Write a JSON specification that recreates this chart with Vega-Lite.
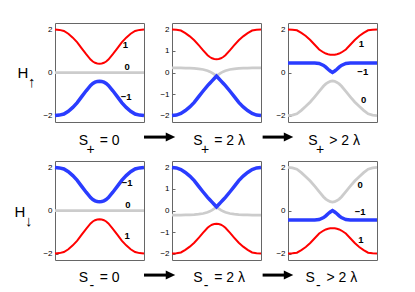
{
  "$schema": "https://vega.github.io/schema/vega-lite/v6.json",
  "padding": {"left": 13, "top": 22, "right": 0, "bottom": 0},
  "config": {"font": "Liberation Sans", "view": {"stroke": "#666", "strokeWidth": 1}},
  "columns": 5,
  "align": "each",
  "bounds": "flush",
  "spacing": {"row": 14, "column": 0},
  "datasets": {
    "up_zero": [
      {"t":0,"plus":2,"zero":0,"minus":-2},{"t":0.05,"plus":1.98,"zero":0,"minus":-1.98},{"t":0.1,"plus":1.93,"zero":0,"minus":-1.93},{"t":0.15,"plus":1.8,"zero":0,"minus":-1.8},{"t":0.2,"plus":1.62,"zero":0,"minus":-1.62},{"t":0.25,"plus":1.4,"zero":0,"minus":-1.4},{"t":0.3,"plus":1.12,"zero":0,"minus":-1.12},{"t":0.35,"plus":0.85,"zero":0,"minus":-0.85},{"t":0.4,"plus":0.6,"zero":0,"minus":-0.6},{"t":0.425,"plus":0.51,"zero":0,"minus":-0.51},{"t":0.45,"plus":0.45,"zero":0,"minus":-0.45},{"t":0.475,"plus":0.42,"zero":0,"minus":-0.42},{"t":0.5,"plus":0.41,"zero":0,"minus":-0.41},{"t":0.525,"plus":0.42,"zero":0,"minus":-0.42},{"t":0.55,"plus":0.45,"zero":0,"minus":-0.45},{"t":0.575,"plus":0.51,"zero":0,"minus":-0.51},{"t":0.6,"plus":0.6,"zero":0,"minus":-0.6},{"t":0.65,"plus":0.85,"zero":0,"minus":-0.85},{"t":0.7,"plus":1.12,"zero":0,"minus":-1.12},{"t":0.75,"plus":1.4,"zero":0,"minus":-1.4},{"t":0.8,"plus":1.62,"zero":0,"minus":-1.62},{"t":0.85,"plus":1.8,"zero":0,"minus":-1.8},{"t":0.9,"plus":1.93,"zero":0,"minus":-1.93},{"t":0.95,"plus":1.98,"zero":0,"minus":-1.98},{"t":1,"plus":2,"zero":0,"minus":-2}
    ],
    "down_zero": [
      {"t":0,"plus":-2,"zero":0,"minus":2},{"t":0.05,"plus":-1.98,"zero":0,"minus":1.98},{"t":0.1,"plus":-1.93,"zero":0,"minus":1.93},{"t":0.15,"plus":-1.8,"zero":0,"minus":1.8},{"t":0.2,"plus":-1.62,"zero":0,"minus":1.62},{"t":0.25,"plus":-1.4,"zero":0,"minus":1.4},{"t":0.3,"plus":-1.12,"zero":0,"minus":1.12},{"t":0.35,"plus":-0.85,"zero":0,"minus":0.85},{"t":0.4,"plus":-0.6,"zero":0,"minus":0.6},{"t":0.425,"plus":-0.51,"zero":0,"minus":0.51},{"t":0.45,"plus":-0.45,"zero":0,"minus":0.45},{"t":0.475,"plus":-0.42,"zero":0,"minus":0.42},{"t":0.5,"plus":-0.41,"zero":0,"minus":0.41},{"t":0.525,"plus":-0.42,"zero":0,"minus":0.42},{"t":0.55,"plus":-0.45,"zero":0,"minus":0.45},{"t":0.575,"plus":-0.51,"zero":0,"minus":0.51},{"t":0.6,"plus":-0.6,"zero":0,"minus":0.6},{"t":0.65,"plus":-0.85,"zero":0,"minus":0.85},{"t":0.7,"plus":-1.12,"zero":0,"minus":1.12},{"t":0.75,"plus":-1.4,"zero":0,"minus":1.4},{"t":0.8,"plus":-1.62,"zero":0,"minus":1.62},{"t":0.85,"plus":-1.8,"zero":0,"minus":1.8},{"t":0.9,"plus":-1.93,"zero":0,"minus":1.93},{"t":0.95,"plus":-1.98,"zero":0,"minus":1.98},{"t":1,"plus":-2,"zero":0,"minus":2}
    ],
    "up_eq": [
      {"t":0,"plus":2,"zero":0.21,"minus":-2},{"t":0.05,"plus":1.99,"zero":0.21,"minus":-1.98},{"t":0.1,"plus":1.95,"zero":0.21,"minus":-1.9},{"t":0.15,"plus":1.83,"zero":0.2,"minus":-1.77},{"t":0.2,"plus":1.68,"zero":0.2,"minus":-1.6},{"t":0.25,"plus":1.5,"zero":0.19,"minus":-1.39},{"t":0.3,"plus":1.27,"zero":0.17,"minus":-1.12},{"t":0.35,"plus":1.03,"zero":0.14,"minus":-0.86},{"t":0.4,"plus":0.8,"zero":0.08,"minus":-0.61},{"t":0.425,"plus":0.72,"zero":0.04,"minus":-0.5},{"t":0.45,"plus":0.66,"zero":-0.02,"minus":-0.39},{"t":0.475,"plus":0.63,"zero":-0.09,"minus":-0.28},{"t":0.5,"plus":0.62,"zero":-0.17,"minus":-0.17},{"t":0.525,"plus":0.63,"zero":-0.09,"minus":-0.28},{"t":0.55,"plus":0.66,"zero":-0.02,"minus":-0.39},{"t":0.575,"plus":0.72,"zero":0.04,"minus":-0.5},{"t":0.6,"plus":0.8,"zero":0.08,"minus":-0.61},{"t":0.65,"plus":1.03,"zero":0.14,"minus":-0.86},{"t":0.7,"plus":1.27,"zero":0.17,"minus":-1.12},{"t":0.75,"plus":1.5,"zero":0.19,"minus":-1.39},{"t":0.8,"plus":1.68,"zero":0.2,"minus":-1.6},{"t":0.85,"plus":1.83,"zero":0.2,"minus":-1.77},{"t":0.9,"plus":1.95,"zero":0.21,"minus":-1.9},{"t":0.95,"plus":1.99,"zero":0.21,"minus":-1.98},{"t":1,"plus":2,"zero":0.21,"minus":-2}
    ],
    "down_eq": [
      {"t":0,"plus":-2,"zero":-0.21,"minus":2},{"t":0.05,"plus":-1.99,"zero":-0.21,"minus":1.98},{"t":0.1,"plus":-1.95,"zero":-0.21,"minus":1.9},{"t":0.15,"plus":-1.83,"zero":-0.2,"minus":1.77},{"t":0.2,"plus":-1.68,"zero":-0.2,"minus":1.6},{"t":0.25,"plus":-1.5,"zero":-0.19,"minus":1.39},{"t":0.3,"plus":-1.27,"zero":-0.17,"minus":1.12},{"t":0.35,"plus":-1.03,"zero":-0.14,"minus":0.86},{"t":0.4,"plus":-0.8,"zero":-0.08,"minus":0.61},{"t":0.425,"plus":-0.72,"zero":-0.04,"minus":0.5},{"t":0.45,"plus":-0.66,"zero":0.02,"minus":0.39},{"t":0.475,"plus":-0.63,"zero":0.09,"minus":0.28},{"t":0.5,"plus":-0.62,"zero":0.17,"minus":0.17},{"t":0.525,"plus":-0.63,"zero":0.09,"minus":0.28},{"t":0.55,"plus":-0.66,"zero":0.02,"minus":0.39},{"t":0.575,"plus":-0.72,"zero":-0.04,"minus":0.5},{"t":0.6,"plus":-0.8,"zero":-0.08,"minus":0.61},{"t":0.65,"plus":-1.03,"zero":-0.14,"minus":0.86},{"t":0.7,"plus":-1.27,"zero":-0.17,"minus":1.12},{"t":0.75,"plus":-1.5,"zero":-0.19,"minus":1.39},{"t":0.8,"plus":-1.68,"zero":-0.2,"minus":1.6},{"t":0.85,"plus":-1.83,"zero":-0.2,"minus":1.77},{"t":0.9,"plus":-1.95,"zero":-0.21,"minus":1.9},{"t":0.95,"plus":-1.99,"zero":-0.21,"minus":1.98},{"t":1,"plus":-2,"zero":-0.21,"minus":2}
    ],
    "up_gt": [
      {"t":0,"plus":2,"zero":-2,"minus":0.44},{"t":0.05,"plus":1.99,"zero":-1.98,"minus":0.44},{"t":0.1,"plus":1.96,"zero":-1.92,"minus":0.44},{"t":0.15,"plus":1.84,"zero":-1.76,"minus":0.44},{"t":0.2,"plus":1.7,"zero":-1.57,"minus":0.44},{"t":0.25,"plus":1.51,"zero":-1.37,"minus":0.44},{"t":0.3,"plus":1.29,"zero":-1.13,"minus":0.44},{"t":0.35,"plus":1.07,"zero":-0.88,"minus":0.42},{"t":0.4,"plus":0.93,"zero":-0.63,"minus":0.33},{"t":0.425,"plus":0.88,"zero":-0.53,"minus":0.25},{"t":0.45,"plus":0.85,"zero":-0.46,"minus":0.15},{"t":0.475,"plus":0.83,"zero":-0.41,"minus":0.07},{"t":0.5,"plus":0.82,"zero":-0.39,"minus":0},{"t":0.525,"plus":0.83,"zero":-0.41,"minus":0.07},{"t":0.55,"plus":0.85,"zero":-0.46,"minus":0.15},{"t":0.575,"plus":0.88,"zero":-0.53,"minus":0.25},{"t":0.6,"plus":0.93,"zero":-0.63,"minus":0.33},{"t":0.65,"plus":1.07,"zero":-0.88,"minus":0.42},{"t":0.7,"plus":1.29,"zero":-1.13,"minus":0.44},{"t":0.75,"plus":1.51,"zero":-1.37,"minus":0.44},{"t":0.8,"plus":1.7,"zero":-1.57,"minus":0.44},{"t":0.85,"plus":1.84,"zero":-1.76,"minus":0.44},{"t":0.9,"plus":1.96,"zero":-1.92,"minus":0.44},{"t":0.95,"plus":1.99,"zero":-1.98,"minus":0.44},{"t":1,"plus":2,"zero":-2,"minus":0.44}
    ],
    "down_gt": [
      {"t":0,"plus":-2,"zero":2,"minus":-0.44},{"t":0.05,"plus":-1.99,"zero":1.98,"minus":-0.44},{"t":0.1,"plus":-1.96,"zero":1.92,"minus":-0.44},{"t":0.15,"plus":-1.84,"zero":1.76,"minus":-0.44},{"t":0.2,"plus":-1.7,"zero":1.57,"minus":-0.44},{"t":0.25,"plus":-1.51,"zero":1.37,"minus":-0.44},{"t":0.3,"plus":-1.29,"zero":1.13,"minus":-0.44},{"t":0.35,"plus":-1.07,"zero":0.88,"minus":-0.42},{"t":0.4,"plus":-0.93,"zero":0.63,"minus":-0.33},{"t":0.425,"plus":-0.88,"zero":0.53,"minus":-0.25},{"t":0.45,"plus":-0.85,"zero":0.46,"minus":-0.15},{"t":0.475,"plus":-0.83,"zero":0.41,"minus":-0.07},{"t":0.5,"plus":-0.82,"zero":0.39,"minus":0},{"t":0.525,"plus":-0.83,"zero":0.41,"minus":-0.07},{"t":0.55,"plus":-0.85,"zero":0.46,"minus":-0.15},{"t":0.575,"plus":-0.88,"zero":0.53,"minus":-0.25},{"t":0.6,"plus":-0.93,"zero":0.63,"minus":-0.33},{"t":0.65,"plus":-1.07,"zero":0.88,"minus":-0.42},{"t":0.7,"plus":-1.29,"zero":1.13,"minus":-0.44},{"t":0.75,"plus":-1.51,"zero":1.37,"minus":-0.44},{"t":0.8,"plus":-1.7,"zero":1.57,"minus":-0.44},{"t":0.85,"plus":-1.84,"zero":1.76,"minus":-0.44},{"t":0.9,"plus":-1.96,"zero":1.92,"minus":-0.44},{"t":0.95,"plus":-1.99,"zero":1.98,"minus":-0.44},{"t":1,"plus":-2,"zero":2,"minus":-0.44}
    ],
    "up_zero_labels": [{"t":0.79,"energy":1.26,"label":"1"},{"t":0.81,"energy":0.26,"label":"0"},{"t":0.8,"energy":-1.16,"label":"−1"}],
    "up_gt_labels": [{"t":0.825,"energy":1.31,"label":"1"},{"t":0.84,"energy":0.01,"label":"−1"},{"t":0.85,"energy":-1.3,"label":"0"}],
    "down_zero_labels": [{"t":0.81,"energy":1.26,"label":"−1"},{"t":0.82,"energy":0.26,"label":"0"},{"t":0.81,"energy":-1.17,"label":"1"}],
    "down_gt_labels": [{"t":0.81,"energy":1.2,"label":"0"},{"t":0.81,"energy":-0.06,"label":"−1"},{"t":0.82,"energy":-1.36,"label":"1"}],
    "step": [{"transition": "increase S"}]
  },
  "concat": [
    {
      "width": 89, "height": 99,
      "layer": [
        {"data": {"name": "up_zero"}, "transform": [{"fold": ["zero", "plus", "minus"], "as": ["branch", "energy"]}],
         "mark": {"type": "line"},
         "encoding": {
           "x": {"field": "t", "type": "quantitative", "scale": {"domain": [0, 1], "nice": false, "zero": false},
                 "axis": {"title": ["S\u00a0\u00a0\u00a0= 0", "\u200b\u00a0\u00a0+"], "labels": false, "ticks": false, "domain": false, "grid": false, "titleFontSize": 14, "titleFontWeight": "normal", "titleColor": "#000", "titleAlign": "left", "titleBaseline": "alphabetic", "titleX": 23.3, "titleY": 22, "titleLineHeight": 9.5}},
           "y": {"field": "energy", "type": "quantitative", "scale": {"domain": [-2.3, 2.3], "nice": false, "zero": false},
                 "axis": {"values": [-2, -1, 0, 1, 2], "labelExpr": "replace(datum.label, '-', '−')", "labelFontSize": 8, "labelColor": "#000", "grid": false, "domain": false, "tickSize": -3, "tickColor": "#666", "labelPadding": 6,
                          "title": ["H", "\u200b\u2002\u2009↑"], "titleFontSize": 15, "titleFontWeight": "normal", "titleColor": "#000", "titleAngle": 0, "titleAlign": "left", "titleBaseline": "alphabetic", "titleX": -38, "titleY": 54, "titleLineHeight": 9}},
           "color": {"field": "branch", "type": "nominal", "scale": {"domain": ["zero", "plus", "minus"], "range": ["#cccccc", "#ff0000", "#2a3cff"]}, "legend": null},
           "strokeWidth": {"field": "branch", "type": "nominal", "scale": {"type": "point", "domain": ["plus", "zero", "minus"], "range": [2, 3.5], "padding": 0}, "legend": null}
         }},
        {"data": {"name": "up_zero_labels"}, "mark": {"type": "text", "fontWeight": "bold", "fontSize": 9.5, "color": "#000", "align": "center", "baseline": "middle"},
         "encoding": {"x": {"field": "t", "type": "quantitative"}, "y": {"field": "energy", "type": "quantitative"}, "text": {"field": "label"}}}
      ]
    },
    {
      "width": 28, "height": 124, "view": {"stroke": null},
      "data": {"name": "step"},
      "layer": [
        {"mark": {"type": "rule", "strokeWidth": 3, "color": "#000", "clip": false},
         "encoding": {"x": {"datum": 0, "type": "quantitative", "scale": {"domain": [0, 1], "nice": false, "zero": false}, "axis": null}, "x2": {"datum": 0.82},
                      "y": {"datum": 0.08, "type": "quantitative", "scale": {"domain": [0, 1], "nice": false, "zero": false}, "axis": null}}},
        {"mark": {"type": "point", "shape": "M-1,-0.95L1,0L-1,0.95Z", "filled": true, "color": "#000", "opacity": 1, "size": 90, "clip": false},
         "encoding": {"x": {"datum": 0.946, "type": "quantitative"}, "y": {"datum": 0.08, "type": "quantitative"}}}
      ]
    },
    {
      "width": 89, "height": 99,
      "layer": [
        {"data": {"name": "up_eq"}, "transform": [{"fold": ["zero", "plus", "minus"], "as": ["branch", "energy"]}],
         "mark": {"type": "line"},
         "encoding": {
           "x": {"field": "t", "type": "quantitative", "scale": {"domain": [0, 1], "nice": false, "zero": false},
                 "axis": {"title": ["S\u00a0\u00a0\u00a0= 2 λ", "\u200b\u00a0\u00a0+"], "labels": false, "ticks": false, "domain": false, "grid": false, "titleFontSize": 14, "titleFontWeight": "normal", "titleColor": "#000", "titleAlign": "left", "titleBaseline": "alphabetic", "titleX": 20.7, "titleY": 22, "titleLineHeight": 9.5}},
           "y": {"field": "energy", "type": "quantitative", "scale": {"domain": [-2.3, 2.3], "nice": false, "zero": false},
                 "axis": {"values": [-2, -1, 0, 1, 2], "labelExpr": "replace(datum.label, '-', '−')", "labelFontSize": 8, "labelColor": "#000", "grid": false, "domain": false, "tickSize": -3, "tickColor": "#666", "labelPadding": 6, "title": null}},
           "color": {"field": "branch", "type": "nominal", "scale": {"domain": ["zero", "plus", "minus"], "range": ["#cccccc", "#ff0000", "#2a3cff"]}, "legend": null},
           "strokeWidth": {"field": "branch", "type": "nominal", "scale": {"type": "point", "domain": ["plus", "zero", "minus"], "range": [2, 3.5], "padding": 0}, "legend": null}
         }}
      ]
    },
    {
      "width": 27, "height": 124, "view": {"stroke": null},
      "data": {"name": "step"},
      "layer": [
        {"mark": {"type": "rule", "strokeWidth": 3, "color": "#000", "clip": false},
         "encoding": {"x": {"datum": 0.06, "type": "quantitative", "scale": {"domain": [0, 1], "nice": false, "zero": false}, "axis": null}, "x2": {"datum": 0.9},
                      "y": {"datum": 0.08, "type": "quantitative", "scale": {"domain": [0, 1], "nice": false, "zero": false}, "axis": null}}},
        {"mark": {"type": "point", "shape": "M-1,-0.95L1,0L-1,0.95Z", "filled": true, "color": "#000", "opacity": 1, "size": 90, "clip": false},
         "encoding": {"x": {"datum": 1.02, "type": "quantitative"}, "y": {"datum": 0.08, "type": "quantitative"}}}
      ]
    },
    {
      "width": 89, "height": 99,
      "layer": [
        {"data": {"name": "up_gt"}, "transform": [{"fold": ["zero", "plus", "minus"], "as": ["branch", "energy"]}],
         "mark": {"type": "line"},
         "encoding": {
           "x": {"field": "t", "type": "quantitative", "scale": {"domain": [0, 1], "nice": false, "zero": false},
                 "axis": {"title": ["S\u00a0\u00a0\u00a0> 2 λ", "\u200b\u00a0\u00a0+"], "labels": false, "ticks": false, "domain": false, "grid": false, "titleFontSize": 14, "titleFontWeight": "normal", "titleColor": "#000", "titleAlign": "left", "titleBaseline": "alphabetic", "titleX": 19.7, "titleY": 22, "titleLineHeight": 9.5}},
           "y": {"field": "energy", "type": "quantitative", "scale": {"domain": [-2.3, 2.3], "nice": false, "zero": false},
                 "axis": {"values": [-2, -1, 0, 1, 2], "labelExpr": "replace(datum.label, '-', '−')", "labelFontSize": 8, "labelColor": "#000", "grid": false, "domain": false, "tickSize": -3, "tickColor": "#666", "labelPadding": 6, "title": null}},
           "color": {"field": "branch", "type": "nominal", "scale": {"domain": ["zero", "plus", "minus"], "range": ["#cccccc", "#ff0000", "#2a3cff"]}, "legend": null},
           "strokeWidth": {"field": "branch", "type": "nominal", "scale": {"type": "point", "domain": ["plus", "zero", "minus"], "range": [2, 3.5], "padding": 0}, "legend": null}
         }},
        {"data": {"name": "up_gt_labels"}, "mark": {"type": "text", "fontWeight": "bold", "fontSize": 9.5, "color": "#000", "align": "center", "baseline": "middle"},
         "encoding": {"x": {"field": "t", "type": "quantitative"}, "y": {"field": "energy", "type": "quantitative"}, "text": {"field": "label"}}}
      ]
    },
    {
      "width": 89, "height": 99,
      "layer": [
        {"data": {"name": "down_zero"}, "transform": [{"fold": ["zero", "plus", "minus"], "as": ["branch", "energy"]}],
         "mark": {"type": "line"},
         "encoding": {
           "x": {"field": "t", "type": "quantitative", "scale": {"domain": [0, 1], "nice": false, "zero": false},
                 "axis": {"title": ["S\u00a0\u00a0\u00a0= 0", "\u200b\u00a0\u00a0\u2009-"], "labels": false, "ticks": false, "domain": false, "grid": false, "titleFontSize": 14, "titleFontWeight": "normal", "titleColor": "#000", "titleAlign": "left", "titleBaseline": "alphabetic", "titleX": 23.3, "titleY": 21, "titleLineHeight": 8.5}},
           "y": {"field": "energy", "type": "quantitative", "scale": {"domain": [-2.3, 2.3], "nice": false, "zero": false},
                 "axis": {"values": [-2, -1, 0, 1, 2], "labelExpr": "replace(datum.label, '-', '−')", "labelFontSize": 8, "labelColor": "#000", "grid": false, "domain": false, "tickSize": -3, "tickColor": "#666", "labelPadding": 6,
                          "title": ["H", "\u200b\u2002\u2009↓"], "titleFontSize": 15, "titleFontWeight": "normal", "titleColor": "#000", "titleAngle": 0, "titleAlign": "left", "titleBaseline": "alphabetic", "titleX": -41, "titleY": 55, "titleLineHeight": 9}},
           "color": {"field": "branch", "type": "nominal", "scale": {"domain": ["zero", "plus", "minus"], "range": ["#cccccc", "#ff0000", "#2a3cff"]}, "legend": null},
           "strokeWidth": {"field": "branch", "type": "nominal", "scale": {"type": "point", "domain": ["plus", "zero", "minus"], "range": [2, 3.5], "padding": 0}, "legend": null}
         }},
        {"data": {"name": "down_zero_labels"}, "mark": {"type": "text", "fontWeight": "bold", "fontSize": 9.5, "color": "#000", "align": "center", "baseline": "middle"},
         "encoding": {"x": {"field": "t", "type": "quantitative"}, "y": {"field": "energy", "type": "quantitative"}, "text": {"field": "label"}}}
      ]
    },
    {
      "width": 28, "height": 124, "view": {"stroke": null},
      "data": {"name": "step"},
      "layer": [
        {"mark": {"type": "rule", "strokeWidth": 3, "color": "#000", "clip": false},
         "encoding": {"x": {"datum": 0, "type": "quantitative", "scale": {"domain": [0, 1], "nice": false, "zero": false}, "axis": null}, "x2": {"datum": 0.82},
                      "y": {"datum": 0.08, "type": "quantitative", "scale": {"domain": [0, 1], "nice": false, "zero": false}, "axis": null}}},
        {"mark": {"type": "point", "shape": "M-1,-0.95L1,0L-1,0.95Z", "filled": true, "color": "#000", "opacity": 1, "size": 90, "clip": false},
         "encoding": {"x": {"datum": 0.946, "type": "quantitative"}, "y": {"datum": 0.08, "type": "quantitative"}}}
      ]
    },
    {
      "width": 89, "height": 99,
      "layer": [
        {"data": {"name": "down_eq"}, "transform": [{"fold": ["zero", "plus", "minus"], "as": ["branch", "energy"]}],
         "mark": {"type": "line"},
         "encoding": {
           "x": {"field": "t", "type": "quantitative", "scale": {"domain": [0, 1], "nice": false, "zero": false},
                 "axis": {"title": ["S\u00a0\u00a0\u00a0= 2 λ", "\u200b\u00a0\u00a0\u2009-"], "labels": false, "ticks": false, "domain": false, "grid": false, "titleFontSize": 14, "titleFontWeight": "normal", "titleColor": "#000", "titleAlign": "left", "titleBaseline": "alphabetic", "titleX": 20.7, "titleY": 21, "titleLineHeight": 8.5}},
           "y": {"field": "energy", "type": "quantitative", "scale": {"domain": [-2.3, 2.3], "nice": false, "zero": false},
                 "axis": {"values": [-2, -1, 0, 1, 2], "labelExpr": "replace(datum.label, '-', '−')", "labelFontSize": 8, "labelColor": "#000", "grid": false, "domain": false, "tickSize": -3, "tickColor": "#666", "labelPadding": 6, "title": null}},
           "color": {"field": "branch", "type": "nominal", "scale": {"domain": ["zero", "plus", "minus"], "range": ["#cccccc", "#ff0000", "#2a3cff"]}, "legend": null},
           "strokeWidth": {"field": "branch", "type": "nominal", "scale": {"type": "point", "domain": ["plus", "zero", "minus"], "range": [2, 3.5], "padding": 0}, "legend": null}
         }}
      ]
    },
    {
      "width": 27, "height": 124, "view": {"stroke": null},
      "data": {"name": "step"},
      "layer": [
        {"mark": {"type": "rule", "strokeWidth": 3, "color": "#000", "clip": false},
         "encoding": {"x": {"datum": 0.06, "type": "quantitative", "scale": {"domain": [0, 1], "nice": false, "zero": false}, "axis": null}, "x2": {"datum": 0.9},
                      "y": {"datum": 0.08, "type": "quantitative", "scale": {"domain": [0, 1], "nice": false, "zero": false}, "axis": null}}},
        {"mark": {"type": "point", "shape": "M-1,-0.95L1,0L-1,0.95Z", "filled": true, "color": "#000", "opacity": 1, "size": 90, "clip": false},
         "encoding": {"x": {"datum": 1.02, "type": "quantitative"}, "y": {"datum": 0.08, "type": "quantitative"}}}
      ]
    },
    {
      "width": 89, "height": 99,
      "layer": [
        {"data": {"name": "down_gt"}, "transform": [{"fold": ["zero", "plus", "minus"], "as": ["branch", "energy"]}],
         "mark": {"type": "line"},
         "encoding": {
           "x": {"field": "t", "type": "quantitative", "scale": {"domain": [0, 1], "nice": false, "zero": false},
                 "axis": {"title": ["S\u00a0\u00a0\u00a0> 2 λ", "\u200b\u00a0\u00a0\u2009-"], "labels": false, "ticks": false, "domain": false, "grid": false, "titleFontSize": 14, "titleFontWeight": "normal", "titleColor": "#000", "titleAlign": "left", "titleBaseline": "alphabetic", "titleX": 17, "titleY": 21, "titleLineHeight": 8.5}},
           "y": {"field": "energy", "type": "quantitative", "scale": {"domain": [-2.3, 2.3], "nice": false, "zero": false},
                 "axis": {"values": [-2, -1, 0, 1, 2], "labelExpr": "replace(datum.label, '-', '−')", "labelFontSize": 8, "labelColor": "#000", "grid": false, "domain": false, "tickSize": -3, "tickColor": "#666", "labelPadding": 6, "title": null}},
           "color": {"field": "branch", "type": "nominal", "scale": {"domain": ["zero", "plus", "minus"], "range": ["#cccccc", "#ff0000", "#2a3cff"]}, "legend": null},
           "strokeWidth": {"field": "branch", "type": "nominal", "scale": {"type": "point", "domain": ["plus", "zero", "minus"], "range": [2, 3.5], "padding": 0}, "legend": null}
         }},
        {"data": {"name": "down_gt_labels"}, "mark": {"type": "text", "fontWeight": "bold", "fontSize": 9.5, "color": "#000", "align": "center", "baseline": "middle"},
         "encoding": {"x": {"field": "t", "type": "quantitative"}, "y": {"field": "energy", "type": "quantitative"}, "text": {"field": "label"}}}
      ]
    }
  ]
}
